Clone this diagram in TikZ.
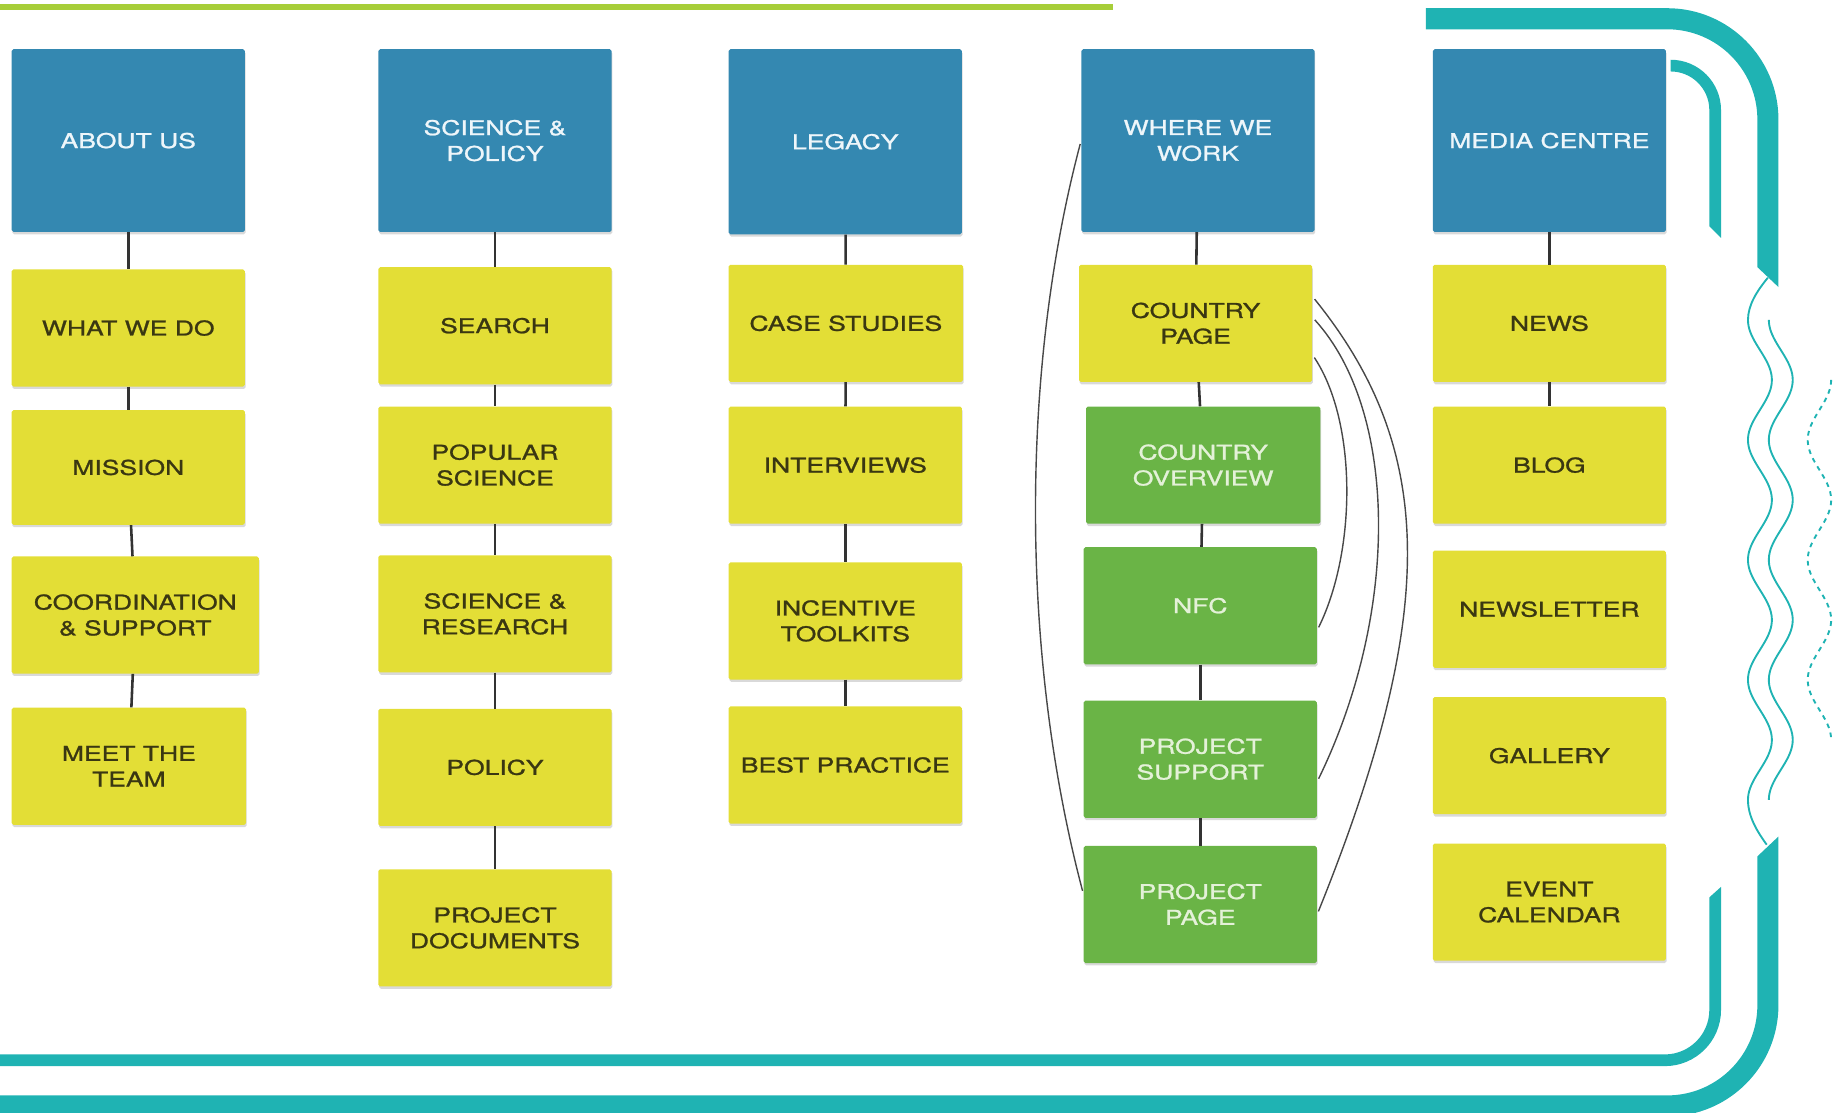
\documentclass[tikz,border=0pt]{standalone}
\usepackage{fontspec}
\setmainfont{TeX Gyre Heros}[FakeStretch=1.3,FakeBold=1.1]
\usetikzlibrary{shadows}
\definecolor{headblue}{HTML}{3488B1}
\definecolor{headtext}{HTML}{EEF6FA}
\definecolor{stickyellow}{HTML}{E3DE36}
\definecolor{inkolive}{HTML}{3A3712}
\definecolor{leafgreen}{HTML}{6AB446}
\definecolor{subtext}{HTML}{E4F1D8}
\definecolor{bandteal}{HTML}{1FB3B3}
\definecolor{limeline}{HTML}{A7CE39}
\definecolor{linkgray}{HTML}{333333}
\definecolor{curvegray}{HTML}{484848}
\begin{document}
\begin{tikzpicture}[x=1pt,y=-1pt,
    box/.style={rectangle,rounded corners=1.5pt,minimum width=199pt,minimum height=100pt,
      inner sep=0pt,align=center,font=\fontsize{17.4}{22}\selectfont,
      drop shadow={shadow xshift=0.6pt,shadow yshift=-2pt,opacity=0.3}},
    head/.style={box,fill=headblue,text=headtext,minimum height=156pt},
    page/.style={box,fill=stickyellow,text=inkolive},
    sub/.style={box,fill=leafgreen,text=subtext},
    link/.style={draw=linkgray,line width=2.2pt},
    jump/.style={draw=curvegray,line width=1.2pt,shorten <=3pt,shorten >=3pt},
    band/.style={fill=bandteal},
    wave/.style={draw=bandteal,line width=1.6pt}]
  \useasboundingbox (0,0) rectangle (1568,950);

  % frame
  \fill[limeline] (0,3.5) rectangle (950,8.5);
  \fill[band] (1217,7) -- (1423,7) arc[start angle=-90,end angle=0,radius=95]
    -- (1518,245) -- (1500,228) -- (1500,102) arc[start angle=0,end angle=-90,radius=77]
    -- (1217,25) -- cycle;
  \fill[band] (1426,51) arc[start angle=-90,end angle=0,radius=43]
    -- (1469,203) -- (1459,193) -- (1459,94) arc[start angle=0,end angle=-90,radius=33]
    -- cycle;
  \fill[band] (1518,714) -- (1518,858) arc[start angle=0,end angle=90,radius=95]
    -- (0,953) -- (0,935) -- (1423,935) arc[start angle=90,end angle=0,radius=77]
    -- (1500,731) -- cycle;
  \fill[band] (1469,757) -- (1469,862) arc[start angle=0,end angle=90,radius=48]
    -- (0,910) -- (0,900) -- (1421,900) arc[start angle=90,end angle=0,radius=38]
    -- (1459,766) -- cycle;

  % waves
  \draw[wave] (1509,237) .. controls (1500,248) and (1492,260) .. (1492,273.1)
    -- plot[variable=\t,domain=273.1:682.8,samples=160]
       ({1502.2-10.2*cos((\t-273.1)*3.515625)},\t)
    .. controls (1492,697) and (1500,710) .. (1508,721);
  \draw[wave] plot[variable=\t,domain=273.1:682.8,samples=160]
    ({1520-10.2*cos((\t-273.1)*3.515625)},\t);
  \draw[wave,dash pattern=on 4pt off 4pt] plot[variable=\t,domain=324.3:631.6,samples=120]
    ({1553+10*cos((\t-324.3)*3.515625)},\t);

  % about us
  \node[head] (about) at (109.5,120) {ABOUT US};
  \node[page] (whatwedo) at (109.5,280) {WHAT WE DO};
  \node[page,minimum height=98pt] (mission) at (109.5,399) {MISSION};
  \node[page,minimum width=211pt] (coord) at (115.5,525) {COORDINATION\\\& SUPPORT};
  \node[page,minimum width=200pt] (meet) at (110,654) {MEET THE\\TEAM};

  % science and policy
  \node[head] (scipol) at (422.5,120) {SCIENCE \&\\POLICY};
  \node[page] (search) at (422.5,278) {SEARCH};
  \node[page] (popsci) at (422.5,397) {POPULAR\\SCIENCE};
  \node[page] (scires) at (422.5,524) {SCIENCE \&\\RESEARCH};
  \node[page] (policy) at (422.5,655) {POLICY};
  \node[page] (projdocs) at (422.5,792) {PROJECT\\DOCUMENTS};

  % legacy
  \node[head,minimum height=158pt] (legacy) at (721.5,121) {LEGACY};
  \node[page,minimum width=200pt] (cases) at (722,276) {CASE STUDIES};
  \node[page] (interviews) at (721.5,397) {INTERVIEWS};
  \node[page] (toolkits) at (721.5,530) {INCENTIVE\\TOOLKITS};
  \node[page] (practice) at (721.5,653) {BEST PRACTICE};

  % where we work
  \node[head] (where) at (1022.5,120) {WHERE WE\\WORK};
  \node[page] (cpage) at (1020.5,276) {COUNTRY\\PAGE};
  \node[sub,minimum width=200pt] (overview) at (1027,397) {COUNTRY\\OVERVIEW};
  \node[sub] (nfc) at (1024.5,517) {NFC};
  \node[sub] (psupport) at (1024.5,648) {PROJECT\\SUPPORT};
  \node[sub] (ppage) at (1024.5,772) {PROJECT\\PAGE};

  % media centre
  \node[head] (media) at (1322.5,120) {MEDIA CENTRE};
  \node[page] (news) at (1322.5,276) {NEWS};
  \node[page] (blog) at (1322.5,397) {BLOG};
  \node[page] (newsletter) at (1322.5,520) {NEWSLETTER};
  \node[page] (gallery) at (1322.5,645) {GALLERY};
  \node[page] (events) at (1322.5,770) {EVENT\\CALENDAR};

  \begin{scope}[link]
    \draw (about) -- (whatwedo);
    \draw (whatwedo) -- (mission);
    \draw (mission) -- (coord);
    \draw (coord) -- (meet);
    \draw (scipol) -- (search);
    \draw (search) -- (popsci);
    \draw (popsci) -- (scires);
    \draw (scires) -- (policy);
    \draw (policy) -- (projdocs);
    \draw (legacy) -- (cases);
    \draw (cases) -- (interviews);
    \draw (interviews) -- (toolkits);
    \draw (toolkits) -- (practice);
    \draw (where) -- (cpage);
    \draw (cpage) -- (overview);
    \draw (overview) -- (nfc);
    \draw (nfc) -- (psupport);
    \draw (psupport) -- (ppage);
    \draw (media) -- (news);
    \draw (news) -- (blog);
  \end{scope}

  \begin{scope}[jump]
    \draw (where.west) .. controls +(-53,200) and +(-53,-200) .. (ppage.175);
    \draw (cpage.13) .. controls +(105,130) and +(105,-260) .. (ppage.-5);
    \draw (cpage.3) .. controls +(72,79) and +(72,-148) .. (psupport.-11);
    \draw (cpage.-15) .. controls +(38,57) and +(34,-69) .. (nfc.-12);
  \end{scope}
\end{tikzpicture}
\end{document}
